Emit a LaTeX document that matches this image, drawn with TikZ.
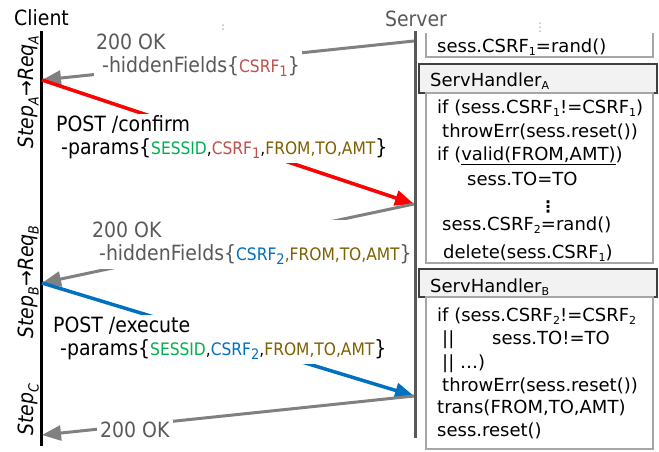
\documentclass[tikz,border=0pt]{standalone}
\usepackage{fontspec}
\setmainfont{DejaVuSans}[Extension=.ttf, ItalicFont=DejaVuSans-Oblique, BoldFont=DejaVuSans-Bold, BoldItalicFont=DejaVuSans-BoldOblique]
\newfontfamily\cond{DejaVuSansCondensed}[Extension=.ttf, ItalicFont=DejaVuSansCondensed-Oblique, BoldFont=DejaVuSansCondensed-Bold, BoldItalicFont=DejaVuSansCondensed-BoldOblique]
\usetikzlibrary{arrows.meta}
\definecolor{cgreen}{HTML}{00B050}
\definecolor{cred}{HTML}{C0504D}
\definecolor{cblue}{HTML}{0070C0}
\definecolor{cgold}{HTML}{7F6000}
\definecolor{lblgray}{HTML}{595959}
\definecolor{arrgray}{HTML}{808080}
\definecolor{boxgray}{HTML}{A6A6A6}
\definecolor{hdrfill}{HTML}{F2F2F2}
\definecolor{hdrdraw}{HTML}{404040}
\definecolor{reqred}{HTML}{FF0000}
\definecolor{dotgray}{HTML}{A6A6A6}
\newcommand\csub[1]{\raisebox{-0.35ex}{\fontsize{11}{11}\selectfont #1}}
\newcommand\psub[1]{\raisebox{-0.45ex}{\fontsize{14.5}{14.5}\selectfont #1}}
\newcommand\ssub[1]{\raisebox{-0.5ex}{\fontsize{14}{14}\selectfont #1}}
\newcommand\pp[2]{{\color{#1}\fontsize{17.2}{17.2}\selectfont #2}}
\newcommand\twolines[3]{\begin{tabular}[t]{@{}l@{}}#1\\\hspace*{#2}#3\end{tabular}}
\begin{document}
\begin{tikzpicture}[x=1pt,y=-1pt,
  lbl/.style={font=\cond\fontsize{21}{23.5}\selectfont, inner xsep=2pt, inner ysep=1pt, anchor=base west, fill=white},
  glbl/.style={lbl, text=lblgray},
  code/.style={font=\fontsize{18}{18}\selectfont, inner sep=0pt, anchor=base west},
  hdrbox/.style={draw=hdrdraw, fill=hdrfill, line width=1.2pt},
  bodybox/.style={draw=boxgray, line width=1.2pt},
  lifeclient/.style={draw=black, line width=2.5pt},
  lifeserver/.style={draw=lblgray, line width=3pt},
  tip/.style={-{Triangle[length=19pt,width=15pt]}},
  garr/.style={tip, draw=arrgray, line width=3pt},
  rarr/.style={tip, draw=reqred, line width=3.5pt},
  barr/.style={tip, draw=cblue, line width=3.5pt},
  steplbl/.style={font=\cond\itshape\fontsize{21}{21}\selectfont, rotate=90, anchor=base, inner sep=0pt},
  vdots/.style={font=\fontsize{12}{12}\selectfont, text=dotgray, inner sep=0pt}
]
\useasboundingbox (0,0) rectangle (659,451);

% titles
\node[font=\cond\fontsize{21}{21}\selectfont, anchor=base west, inner sep=0pt] (client) at (14,25) {Client};
\node[font=\cond\fontsize{21}{21}\selectfont, text=lblgray, anchor=base, inner sep=0pt] (server) at (416,26) {Server};
\node[vdots] (d1) at (223,30) {⋮};
\node[vdots] (d2) at (540,28) {⋮};

% lifelines
\coordinate (ctop) at (41.5,31);
\coordinate (cbot) at (41.5,446);
\coordinate (stop) at (415,31);
\coordinate (sbot) at (415,438);
\draw[lifeclient] (ctop) -- (cbot);
\draw[lifeserver] (stop) -- (sbot);

% message end points
\coordinate (s1) at (414,41);
\coordinate (c1) at (42,80);
\coordinate (s2) at (414,204);
\coordinate (c2) at (42,283);
\coordinate (s3) at (414,396);
\coordinate (c3) at (42,435);

\draw[garr] (s1) -- (c1);
\draw[rarr] (c1) -- (s2);
\draw[garr] (s2) -- (c2);
\draw[barr] (c2) -- (s3);
\draw[garr] (s3) -- (c3);

% message labels
\node[glbl] (lab1) at (94,49) {\twolines{200 OK}{6pt}{-hiddenFields\{\pp{cred}{CSRF\psub{1}}\}}};
\node[lbl] (lab2) at (54,131) {\twolines{POST /confirm}{5pt}{-params\{\pp{cgreen}{SESSID}\pp{black}{,}\pp{cred}{CSRF\psub{1}}\pp{black}{,}\pp{cgold}{FROM,TO,AMT}\}}};
\node[glbl] (lab3) at (90,237) {\twolines{200 OK}{7pt}{-hiddenFields\{\pp{cblue}{CSRF\psub{2}}\pp{cgold}{,FROM,TO,AMT}\}}};
\node[lbl] (lab4) at (51,332) {\twolines{POST /execute}{7pt}{-params\{\pp{cgreen}{SESSID}\pp{black}{,}\pp{cblue}{CSRF\psub{2}}\pp{black}{,}\pp{cgold}{FROM,TO,AMT}\}}};
\node[glbl, inner xsep=3pt] (ok3) at (97,437) {200 OK};

% step labels
\node[steplbl] (stA) at (33,92) {Step\ssub{A}→Req\ssub{A}};
\node[steplbl] (stB) at (33,282) {Step\ssub{B}→Req\ssub{B}};
\node[steplbl] (stC) at (33,410) {Step\ssub{C}};

% server: initial box
\draw[bodybox] (426,33) -- (426,57) -- (653,57) -- (653,33);
\node[code] (c0) at (437,52) {sess.CSRF\csub{1}=rand()};

% handler A
\draw[hdrbox] (419,64) rectangle (657,93);
\node[code] (hA) at (430,86) {ServHandler\csub{A}};
\draw[bodybox] (426,93) rectangle (653,263);
\node[code] (a1) at (437,113) {if (sess.CSRF\csub{1}!=CSRF\csub{1})};
\node[code] (a2) at (442,137) {throwErr(sess.reset())};
\node[code] (a3) at (437,160) {if (\underline{valid(FROM,AMT)})};
\node[code] (a4) at (467,185) {sess.TO=TO};
\node[font=\bfseries\fontsize{16}{16}\selectfont, inner sep=0pt] (a5) at (548,207) {⋮};
\node[code] (a6) at (442,230) {sess.CSRF\csub{2}=rand()};
\node[code] (a7) at (443,258) {delete(sess.CSRF\csub{1})};

% handler B
\draw[hdrbox] (419,269) rectangle (657,297);
\node[code] (hB) at (430,292) {ServHandler\csub{B}};
\draw[bodybox] (426,297) rectangle (653,449);
\node[code] (b1) at (437,321) {if (sess.CSRF\csub{2}!=CSRF\csub{2}};
\node[code] (b2) at (442,344) {\makebox[50pt][l]{||}sess.TO!=TO};
\node[code] (b3) at (442,368) {|| …)};
\node[code] (b4) at (442,391) {throwErr(sess.reset())};
\node[code] (b5) at (437,413) {trans(FROM,TO,AMT)};
\node[code] (b6) at (437,436) {sess.reset()};
\end{tikzpicture}
\end{document}
